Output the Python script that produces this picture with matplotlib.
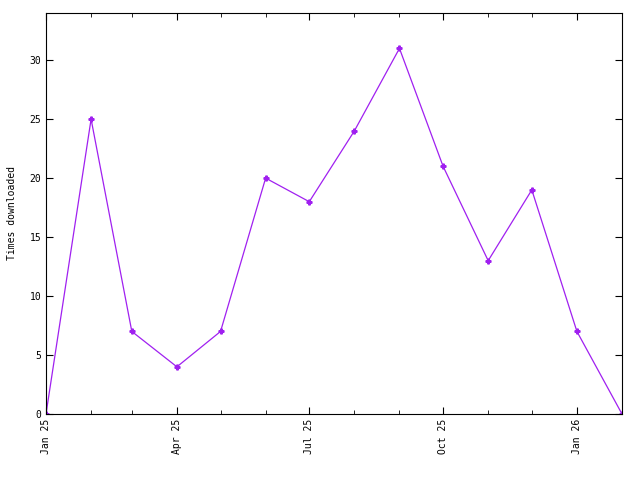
import matplotlib
matplotlib.use('Agg')
import matplotlib.pyplot as plt
import matplotlib.dates as mdates
import numpy as np
from datetime import date

# monthly downloads
months = [date(2025, m, 1) for m in range(1, 13)] + [date(2026, 1, 1), date(2026, 2, 1)]
downloads = [0, 25, 7, 4, 7, 20, 18, 24, 31, 21, 13, 19, 7, 0]

plt.rcParams['font.family'] = 'DejaVu Sans Mono'
plt.rcParams['font.size'] = 7

fig = plt.figure(figsize=(6.4, 4.8), dpi=100)
ax = fig.add_axes([46/640, 1 - 414/480, 576/640, 401/480])

ax.plot(months, downloads, color='#a020f0', linewidth=0.9,
        marker='P', markersize=3.5)

ax.set_xlim(date(2025, 1, 1), date(2026, 2, 1))
ax.set_ylim(0, 34)
ax.set_yticks(np.arange(0, 31, 5))
ax.xaxis.set_major_locator(mdates.MonthLocator(bymonth=[1, 4, 7, 10]))
ax.xaxis.set_minor_locator(mdates.MonthLocator())
ax.xaxis.set_major_formatter(mdates.DateFormatter('%b %y'))
for lbl in ax.get_xticklabels():
    lbl.set_rotation(90)

ax.tick_params(which='both', direction='in', top=True, right=True)
ax.tick_params(which='major', length=5)
ax.tick_params(which='minor', length=3)
ax.set_ylabel('Times downloaded')
ax.yaxis.set_label_coords(-0.05, 0.5)

fig.savefig('out.png', dpi=100)
